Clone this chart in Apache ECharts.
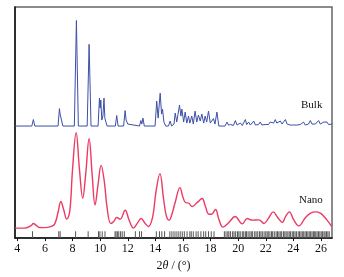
<!DOCTYPE html>
<html style="height: 100%">
<head>
	<meta charset="utf-8">
</head>
<body style="height: 100%; margin: 0; background: #fff">
<div id="container" style="width: 344px; height: 277px"></div>
<script type="text/javascript" src="https://cdn.jsdelivr.net/npm/echarts@6/dist/echarts.min.js"></script>
<script type="text/javascript">
    // 2theta (deg) vs intensity (arbitrary units, plot-height scale)
    var nanoData = [
        [3.83, 10], [4.5, 10], [5.0, 12.5], [5.16, 14.7], [5.35, 13], [5.6, 10.7], [6.0, 10.5], [6.4, 11.5],
        [6.7, 14], [6.95, 26], [7.15, 36.7], [7.35, 29], [7.58, 19], [7.8, 27], [8.0, 69], [8.26, 105.7],
        [8.5, 69], [8.74, 40], [8.95, 64], [9.2, 99.7], [9.42, 64], [9.63, 33.3], [9.85, 54], [10.07, 73],
        [10.3, 57], [10.5, 31], [10.77, 14.7], [11.0, 17], [11.2, 20.7], [11.45, 19], [11.81, 28], [12.1, 18],
        [12.41, 10], [12.7, 15], [12.97, 19.7], [13.25, 15], [13.5, 11.7], [13.8, 21], [14.05, 47], [14.33, 64.7],
        [14.6, 39], [14.8, 22], [15.0, 18], [15.2, 24], [15.44, 36], [15.78, 50.7], [16.0, 41], [16.18, 35.7],
        [16.43, 35], [16.67, 31.7], [17.03, 35.7], [17.39, 39.7], [17.6, 33], [17.88, 24], [18.07, 24], [18.36, 28.7],
        [18.6, 19], [18.9, 11], [19.33, 15.7], [19.77, 21.7], [20.3, 14.3], [20.66, 19.7], [21.03, 18], [21.5, 18.3],
        [21.87, 14.7], [22.2, 20], [22.54, 26.3], [22.85, 21], [23.2, 15.7], [23.45, 22], [23.72, 26.3], [24.0, 19],
        [24.4, 12.3], [24.88, 20.7], [25.25, 25], [25.6, 26.3], [25.95, 25], [26.22, 21.7], [26.5, 17], [26.77, 11.7]
    ];

    var bulkOffset = 112.5;
    var bulkData = [
        [3.83, 0], [5.05, 0], [5.16, 6.5], [5.27, 0],
        [6.95, 0], [7.05, 17.5], [7.1, 12], [7.17, 14], [7.3, 0],
        [8.13, 0], [8.28, 106], [8.42, 0],
        [9.06, 0], [9.2, 82], [9.34, 0],
        [9.85, 0], [9.95, 28], [10.0, 18], [10.05, 26], [10.12, 6], [10.2, 10], [10.28, 28], [10.34, 8], [10.4, 8], [10.5, 0],
        [11.1, 0], [11.2, 10.5], [11.3, 0],
        [11.7, 0], [11.81, 15.5], [11.88, 6], [12.0, 2], [12.1, 0],
        [12.85, 0], [12.95, 5.5], [13.02, 2], [13.1, 8], [13.2, 0],
        [13.98, 0], [14.1, 25], [14.2, 8], [14.35, 33], [14.45, 12], [14.52, 17], [14.62, 4], [14.75, 0],
        [14.95, 0], [15.07, 5], [15.18, 0], [15.35, 2], [15.44, 13], [15.55, 4], [15.75, 21], [15.85, 10],
        [15.92, 17], [16.05, 4], [16.16, 14], [16.28, 3], [16.4, 10], [16.5, 3], [16.64, 10], [16.75, 2],
        [16.88, 15], [17.0, 4], [17.12, 11], [17.25, 5], [17.37, 12], [17.5, 3], [17.61, 10], [17.72, 4],
        [17.85, 15], [17.98, 3], [18.1, 1], [18.21, 7.5], [18.32, 2], [18.46, 14], [18.6, 0],
        [19.05, 0], [19.19, 4], [19.3, 1], [19.45, 1.5], [19.55, 2.5], [19.65, 0.5], [19.8, 5.5], [19.92, 1],
        [20.05, 0.5], [20.16, 3], [20.3, 0.5], [20.42, 2], [20.52, 6.5], [20.62, 1.5], [20.76, 4], [20.88, 1],
        [21.0, 2], [21.13, 5], [21.25, 1], [21.37, 2], [21.48, 1.5], [21.6, 4], [21.72, 1], [21.85, 2],
        [21.95, 1.5], [22.09, 3], [22.2, 1.5], [22.32, 4], [22.45, 5.5], [22.57, 3], [22.69, 6.5], [22.8, 3],
        [22.92, 4], [23.06, 5], [23.18, 2], [23.3, 4], [23.42, 6.5], [23.55, 2], [23.68, 3], [23.78, 1],
        [23.9, 3], [24.02, 1], [24.14, 2], [24.26, 1], [24.38, 0.5], [24.5, 1.5], [24.62, 0.5], [24.74, 4],
        [24.86, 1], [24.98, 3], [25.1, 2], [25.23, 5.5], [25.35, 2], [25.47, 4], [25.6, 2], [25.72, 3.5],
        [25.83, 5.5], [25.95, 2], [26.08, 3], [26.2, 4], [26.32, 2], [26.44, 4], [26.55, 1.5], [26.68, 3], [26.8, 2]
    ];

    // reference reflection positions (2theta)
    var braggPos = [
        5.1, 7.0, 7.1, 8.22, 9.13, 9.88, 9.98, 10.15, 10.35,
        11.08, 11.15, 11.25, 11.35, 11.48, 11.6, 11.75, 12.55, 12.85, 13.0,
        14.07, 14.3, 14.47, 14.67,
        15.05, 15.2, 15.35, 15.5, 15.65, 15.8, 15.95, 16.1, 16.3, 16.5, 16.6, 16.75, 16.95,
        17.1, 17.3, 17.5, 17.65, 17.85, 18.05, 18.25,
        19.0, 19.12, 19.25, 19.33, 19.45, 19.6, 19.7, 19.82, 19.95, 20.05, 20.15, 20.3, 20.4,
        20.52, 20.6, 20.72, 20.85, 20.95, 21.05, 21.2, 21.3, 21.42, 21.55, 21.65, 21.75, 21.88,
        22.0, 22.1, 22.18, 22.3, 22.42, 22.5, 22.62, 22.75, 22.85, 22.95, 23.05, 23.15, 23.28,
        23.38, 23.48, 23.6, 23.7, 23.8, 23.92, 24.02, 24.12, 24.22, 24.35, 24.45, 24.55, 24.65,
        24.75, 24.85, 24.95, 25.05, 25.15, 25.25, 25.35, 25.45, 25.52, 25.62, 25.72, 25.82,
        25.92, 26.02, 26.12, 26.22, 26.3, 26.4, 26.5, 26.6
    ];
    var braggHeight = 7;

    var xTicks = [4, 6, 8, 10, 12, 14, 16, 18, 20, 22, 24, 26];

    var dom = document.getElementById("container");
    var myChart = echarts.init(dom);
    var serif = '"Liberation Serif", "DejaVu Serif", serif';

    var option = {
        backgroundColor: '#fff',
        animation: false,
        grid: {
            left: 15,
            right: 12,
            top: 7,
            bottom: 38,
            show: true,
            borderColor: '#666',
            borderWidth: 1.5
        },
        xAxis: {
            type: 'value',
            min: 3.83,
            max: 26.8,
            name: '2{i|θ} / (°)',
            nameLocation: 'middle',
            nameGap: 20,
            nameTextStyle: {
                fontFamily: serif,
                fontSize: 12,
                color: '#111',
                rich: { i: { fontFamily: serif, fontStyle: 'italic', fontSize: 12, color: '#111' } }
            },
            splitLine: { show: false },
            axisLine: { onZero: false, lineStyle: { color: '#111', width: 1.5 } },
            axisTick: { inside: false, length: 3, lineStyle: { color: '#111' }, customValues: xTicks },
            axisLabel: {
                fontFamily: serif, fontSize: 12, color: '#111', margin: 5,
                customValues: xTicks
            }
        },
        yAxis: {
            type: 'value',
            min: 0,
            max: 232,
            axisLine: { show: true, lineStyle: { color: '#111', width: 1.5 } },
            axisTick: { show: false },
            axisLabel: { show: false },
            splitLine: { show: false }
        },
        graphic: [
            { type: 'text', left: 301, top: 100, style: { text: 'Bulk', fontFamily: serif, fontSize: 11, fill: '#111' } },
            { type: 'text', left: 299, top: 195, style: { text: 'Nano', fontFamily: serif, fontSize: 11, fill: '#111' } }
        ],
        series: [
            {
                type: 'bar',
                name: 'ref',
                barWidth: 1,
                itemStyle: { color: '#555' },
                data: braggPos.map(function (p) { return [p, braggHeight]; })
            },
            {
                type: 'line',
                name: 'Nano',
                smooth: 0.4,
                showSymbol: false,
                lineStyle: { color: '#ec3a63', width: 1.4 },
                data: nanoData
            },
            {
                type: 'line',
                name: 'Bulk',
                showSymbol: false,
                lineStyle: { color: '#3d4fa8', width: 1 },
                data: bulkData.map(function (d) { return [d[0], d[1] + bulkOffset]; })
            }
        ]
    };
    myChart.setOption(option);
</script>
</body>
</html>
